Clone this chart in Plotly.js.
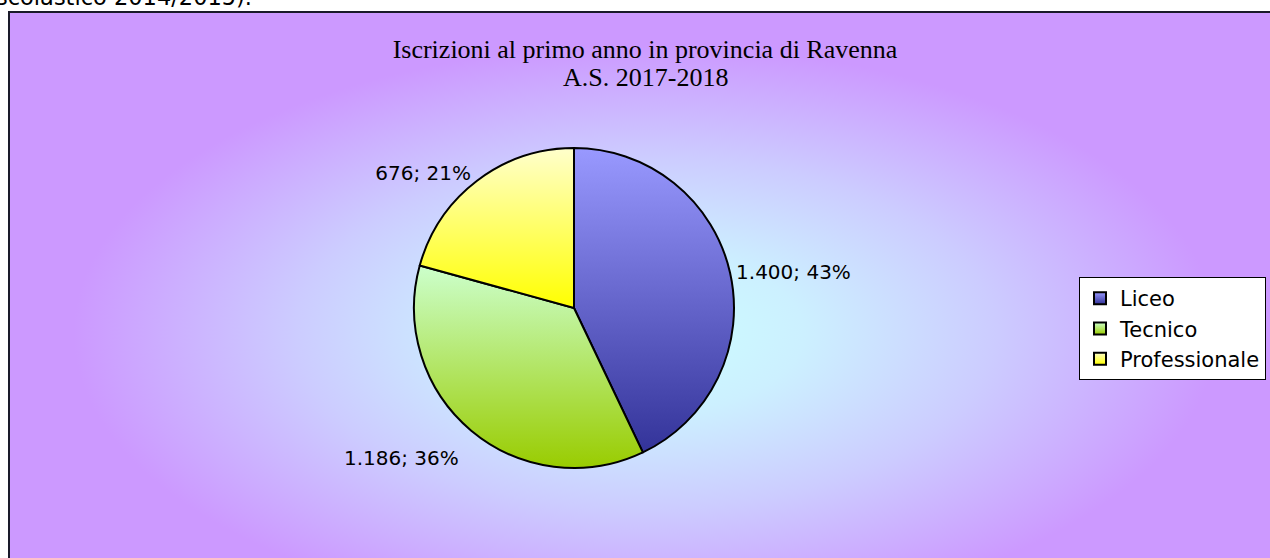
<!DOCTYPE html>
<html>
<head>
<meta charset="utf-8">
<script src="https://cdn.plot.ly/plotly-3.0.1.min.js"></script>
<style>
  html, body { margin: 0; padding: 0; width: 1270px; height: 558px; overflow: hidden; background: #ffffff; }
  #page { position: relative; width: 1270px; height: 558px; overflow: hidden; }
  #topnote { position: absolute; left: -4px; top: -14px; font-family: "DejaVu Sans", sans-serif; font-size: 22.5px; line-height: 22.5px; color: #000; white-space: nowrap; }
  #frame { position: absolute; left: 8px; top: 11px; width: 1270px; height: 640px; border-left: 2px solid #1a1a2a; border-top: 2px solid #1a1a2a;
    background: radial-gradient(ellipse closest-side at 50% 50%, #ccffff 0%, #ccf0ff 25%, #ccccff 55%, #cc99ff 90%, #cc99ff 100%); }
  #chart { position: absolute; left: 0; top: 0; width: 1270px; height: 558px; }
</style>
</head>
<body>
<div id="page">
  <div id="topnote">scolastico 2014/2015).</div>
  <div id="frame"></div>
  <div id="chart"></div>
</div>
<script>
const categories = ["Liceo", "Tecnico", "Professionale"];
const iscrizioni = [1400, 1186, 676];
const titleLine1 = "Iscrizioni al primo anno in provincia di Ravenna";
const titleLine2 = "A.S. 2017-2018";

const gradients = [
  ["#9999ff", "#333399"],
  ["#ccffcc", "#99cc00"],
  ["#ffffcc", "#ffff00"]
];

const W = 1270, H = 558;
const cx = 574, cy = 308, r = 160;
const labelFont = { family: "'DejaVu Sans', sans-serif", size: 20, color: "#000000" };
const titleFont = { family: "'Liberation Serif', 'Times New Roman', serif", size: 26, color: "#000000" };
const baseTemplate = "%{value:,.0f}; %{percent:.0%}";

const trace = {
  type: "pie",
  labels: categories,
  values: iscrizioni,
  sort: false,
  direction: "clockwise",
  rotation: 0,
  textposition: "outside",
  texttemplate: [baseTemplate, "&nbsp;<br>" + baseTemplate, baseTemplate],
  textfont: labelFont,
  outsidetextfont: labelFont,
  marker: { colors: gradients.map(g => g[1]), line: { color: "#000000", width: 2 } },
  domain: { x: [(cx - r) / W, (cx + r) / W], y: [1 - (cy + r) / H, 1 - (cy - r) / H] },
  hoverinfo: "none",
  automargin: false
};

const layout = {
  width: W, height: H,
  margin: { l: 0, r: 0, t: 0, b: 0 },
  paper_bgcolor: "rgba(0,0,0,0)",
  plot_bgcolor: "rgba(0,0,0,0)",
  separators: ",.",
  title: {
    text: titleLine1,
    font: titleFont,
    x: 645 / W, xanchor: "center",
    y: 1 - 48.5 / H, yanchor: "middle"
  },
  annotations: [{
    text: titleLine2, font: titleFont, showarrow: false,
    xref: "paper", yref: "paper",
    x: 645 / W, xanchor: "center",
    y: 1 - 78 / H, yanchor: "middle"
  }],
  showlegend: true,
  legend: {
    x: 1079 / W, xanchor: "left",
    y: 1 - 277 / H, yanchor: "top",
    bgcolor: "#ffffff",
    bordercolor: "#000000",
    borderwidth: 1,
    font: { family: "'DejaVu Sans', sans-serif", size: 21, color: "#000000" },
    itemwidth: 30
  }
};

function applyGradients(gd) {
  const svg = gd.querySelector(".main-svg");
  let defs = svg.querySelector("defs#customgrads");
  if (!defs) {
    defs = document.createElementNS("http://www.w3.org/2000/svg", "defs");
    defs.setAttribute("id", "customgrads");
    gradients.forEach((g, i) => {
      const lg = document.createElementNS("http://www.w3.org/2000/svg", "linearGradient");
      lg.setAttribute("id", "sliceGrad" + i);
      lg.setAttribute("x1", "0"); lg.setAttribute("y1", "0");
      lg.setAttribute("x2", "0"); lg.setAttribute("y2", "1");
      [[0, g[0]], [1, g[1]]].forEach(([o, c]) => {
        const st = document.createElementNS("http://www.w3.org/2000/svg", "stop");
        st.setAttribute("offset", o);
        st.setAttribute("stop-color", c);
        lg.appendChild(st);
      });
      defs.appendChild(lg);
    });
    svg.insertBefore(defs, svg.firstChild);
  }
  gd.querySelectorAll("g.slice").forEach((s, i) => {
    const p = s.querySelector("path.surface");
    if (p) p.style.fill = "url(#sliceGrad" + (i % gradients.length) + ")";
  });
  gd.querySelectorAll(".legendpoints path").forEach((p, i) => {
    p.style.fill = "url(#sliceGrad" + (i % gradients.length) + ")";
  });
}

Plotly.newPlot("chart", [trace], layout, { staticPlot: true, displayModeBar: false }).then(gd => {
  applyGradients(gd);
  gd.on("plotly_afterplot", () => applyGradients(gd));
});
</script>
</body>
</html>
